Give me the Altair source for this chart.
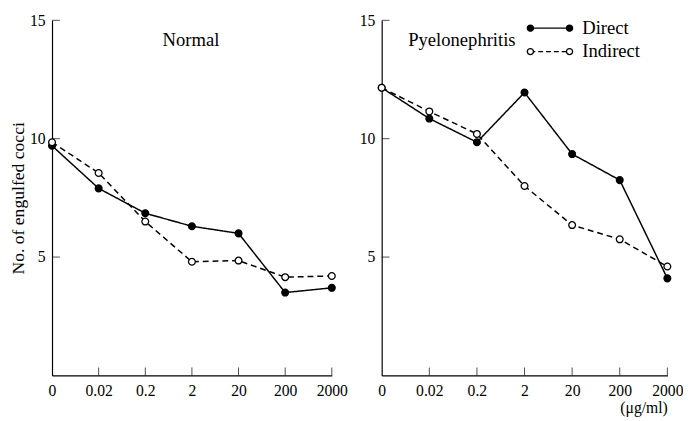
import altair as alt
import pandas as pd

conc = ["0", "0.02", "0.2", "2", "20", "200", "2000"]
series = ["Direct", "Indirect"]
normal_direct = [9.7, 7.9, 6.85, 6.3, 6.0, 3.5, 3.7]
normal_indirect = [9.85, 8.55, 6.5, 4.8, 4.85, 4.15, 4.2]
pyelo_direct = [12.15, 10.85, 9.85, 11.95, 9.35, 8.25, 4.1]
pyelo_indirect = [12.15, 11.15, 10.2, 8.0, 6.35, 5.75, 4.6]
y_ticks = [5, 10, 15]

FONT = "Liberation Serif"


def make_df(direct, indirect):
    rows = []
    for s, vals in zip(series, [direct, indirect]):
        for c, v in zip(conc, vals):
            rows.append({"conc": c, "series": s, "value": v})
    return pd.DataFrame(rows)


def panel(df, title_text, title_x, ytitle, xtitle, width, with_legend):
    x_scale = alt.Scale(type="point", padding=0, domain=conc)
    y_scale = alt.Scale(domain=[0, 15], nice=False)
    x_axis = alt.Axis(title=xtitle, labelAngle=0, ticks=False, grid=False,
                      labelPadding=8, titleAnchor="end", titlePadding=1,
                      titleFontWeight="normal", titleFont=FONT, titleFontSize=16)
    y_axis = alt.Axis(title=ytitle, values=y_ticks, ticks=False, grid=False,
                      labelPadding=7, titlePadding=2, titleFontWeight="normal",
                      titleFont=FONT, titleFontSize=18)
    x = alt.X("conc:N", sort=conc, scale=x_scale, axis=x_axis)
    y = alt.Y("value:Q", scale=y_scale, axis=y_axis)

    base = alt.Chart(df)
    lines = base.mark_line(color="black", strokeWidth=1.5).encode(
        x=x, y=y,
        strokeDash=alt.StrokeDash("series:N",
                                  scale=alt.Scale(domain=series, range=[[1, 0], [6, 4]]),
                                  legend=None),
        detail="series:N",
    )
    points = base.mark_point(shape="circle", size=48, stroke="black",
                             strokeWidth=1.3, opacity=1, filled=False).encode(
        x=x, y=y,
        fill=alt.Fill("series:N", scale=alt.Scale(domain=series, range=["black", "white"]),
                      legend=None),
    )
    ytick = alt.Chart(pd.DataFrame({"v": y_ticks})).mark_tick(
        orient="horizontal", size=8, thickness=1, xOffset=4, color="black"
    ).encode(x=alt.X(datum="0", scale=x_scale), y=alt.Y("v:Q", scale=y_scale))
    xtick = alt.Chart(pd.DataFrame({"c": conc[1:]})).mark_tick(
        orient="vertical", size=8, thickness=1, yOffset=-4, color="black"
    ).encode(x=alt.X("c:N", scale=x_scale), y=alt.Y(datum=0, scale=y_scale))
    label = alt.Chart(pd.DataFrame({"t": [title_text]})).mark_text(
        font=FONT, fontSize=19, color="black", baseline="middle", align="center"
    ).encode(text="t:N", x=alt.value(title_x), y=alt.value(20))
    layers = [lines, points, ytick, xtick, label]
    if with_legend:
        for i, s in enumerate(series):
            yy = 8 + 24 * i
            dash = [1, 0] if i == 0 else [5, 3]
            fill = "black" if i == 0 else "white"
            leg = pd.DataFrame({"series": [s]})
            layers.append(alt.Chart(leg).mark_rule(color="black", strokeWidth=1.5, strokeDash=dash).encode(
                x=alt.value(152), x2=alt.value(192), y=alt.value(yy)))
            for px in [152, 192]:
                layers.append(alt.Chart(leg).mark_point(shape="circle", size=40, stroke="black",
                                                        strokeWidth=1.3, fill=fill, opacity=1).encode(
                    x=alt.value(px), y=alt.value(yy)))
            layers.append(alt.Chart(leg).mark_text(font=FONT, fontSize=19, color="black",
                                                   align="left", baseline="middle").encode(
                text="series:N", x=alt.value(205), y=alt.value(yy)))
    return alt.layer(*layers).properties(width=width, height=363)


left = panel(make_df(normal_direct, normal_indirect), "Normal", 142,
             "No. of engulfed cocci", None, 286, False)
right = panel(make_df(pyelo_direct, pyelo_indirect), "Pyelonephritis", 82,
              None, "(μg/ml)", 292, True)

chart = alt.hconcat(left, right, spacing=12).properties(
    padding={"left": 2, "top": 0, "right": 0, "bottom": 0}
).configure_view(stroke=None).configure_axis(
    labelFont=FONT, labelFontSize=16, labelColor="black",
    domainColor="black", domainWidth=1.2, titleColor="black"
)

chart.save("out.html", embed_options={"renderer": "svg", "actions": False})
